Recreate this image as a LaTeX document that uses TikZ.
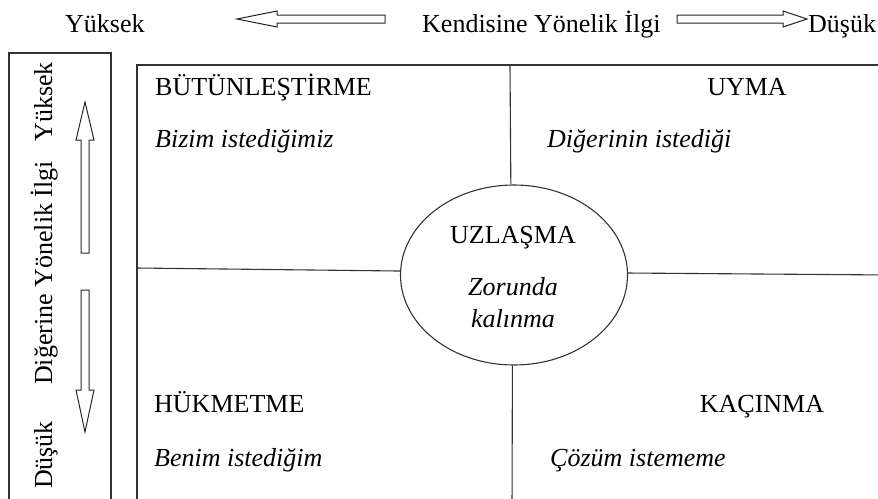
\documentclass[tikz,border=0pt]{standalone}
\usepackage{fontspec}
\setmainfont{Liberation Serif}
\usetikzlibrary{shapes.geometric}

\begin{document}
\begin{tikzpicture}[x=1pt,y=-1pt,
    lbl/.style={font=\fontsize{26}{30}\selectfont, inner sep=0pt},
    note/.style={font=\fontsize{26}{30}\selectfont\itshape, inner sep=0pt},
    frame/.style={line width=1.3pt, black!80},
    divider/.style={line width=1.1pt, black!80},
    hollow/.style={line width=1pt, black!85, fill=white}]
  \useasboundingbox (0,0) rectangle (878,498);
  \clip (0,0) rectangle (878,498);

  % top axis
  \node[lbl, anchor=base west] (selfhigh) at (65,32) {Yüksek};
  \node[lbl, anchor=base west] (selftitle) at (422,32) {Kendisine Yönelik İlgi};
  \node[lbl, anchor=base west] (selflow) at (808,32) {Düşük};
  \draw[hollow] (385,15) -- (277,15) -- (277,11) -- (237,19) -- (277,27) -- (277,23) -- (385,23) -- cycle;
  \draw[hollow] (677,15) -- (783,15) -- (783,11) -- (807,19) -- (783,27) -- (783,23) -- (677,23) -- cycle;

  % left axis
  \draw[frame] (9,510) -- (9,53) -- (111,53) -- (111,510);
  \node[lbl, rotate=90, anchor=base] (otherhigh) at (52,102) {Yüksek};
  \node[lbl, rotate=90, anchor=base] (othertitle) at (52,273) {Diğerine Yönelik İlgi};
  \node[lbl, rotate=90, anchor=base] (otherlow) at (52,455) {Düşük};
  \draw[hollow] (81,253) -- (81,140) -- (76,140) -- (85,102) -- (94,140) -- (89,140) -- (89,253) -- cycle;
  \draw[hollow] (81,290) -- (81,390) -- (76,390) -- (85,432) -- (94,390) -- (89,390) -- (89,290) -- cycle;

  % grid
  \draw[frame] (137,510) -- (137,65) -- (890,65);
  \node[ellipse, draw, divider, minimum width=227, minimum height=180, inner sep=0pt] (uz) at (514,275) {};
  \coordinate (gridtop) at (510,65);
  \coordinate (gridbot) at (512,510);
  \coordinate (gridleft) at (137,268);
  \coordinate (gridright) at (890,275);
  \draw[divider] (gridtop) -- (uz.92);
  \draw[divider] (uz.-91) -- (gridbot);
  \draw[divider] (gridleft) -- (uz.178);
  \draw[divider] (uz.1) -- (gridright);

  % quadrants
  \node[lbl, anchor=base west] (integ) at (155,95) {BÜTÜNLEŞTİRME};
  \node[note, anchor=base west] (integnote) at (155,147) {Bizim istediğimiz};
  \node[lbl, anchor=base] (oblig) at (747,95) {UYMA};
  \node[note, anchor=base west] (obliglnote) at (547,147) {Diğerinin istediği};
  \node[lbl, anchor=base west] (domin) at (154,412) {HÜKMETME};
  \node[note, anchor=base west] (dominnote) at (154,466) {Benim istediğim};
  \node[lbl, anchor=base] (avoid) at (762,412) {KAÇINMA};
  \node[note, anchor=base west] (avoidnote) at (550,466) {Çözüm istememe};

  % centre
  \node[lbl, anchor=base] (comp) at (513,243) {UZLAŞMA};
  \node[note, anchor=base] (compa) at (513,295) {Zorunda};
  \node[note, anchor=base] (compb) at (513,327) {kalınma};
\end{tikzpicture}
\end{document}
